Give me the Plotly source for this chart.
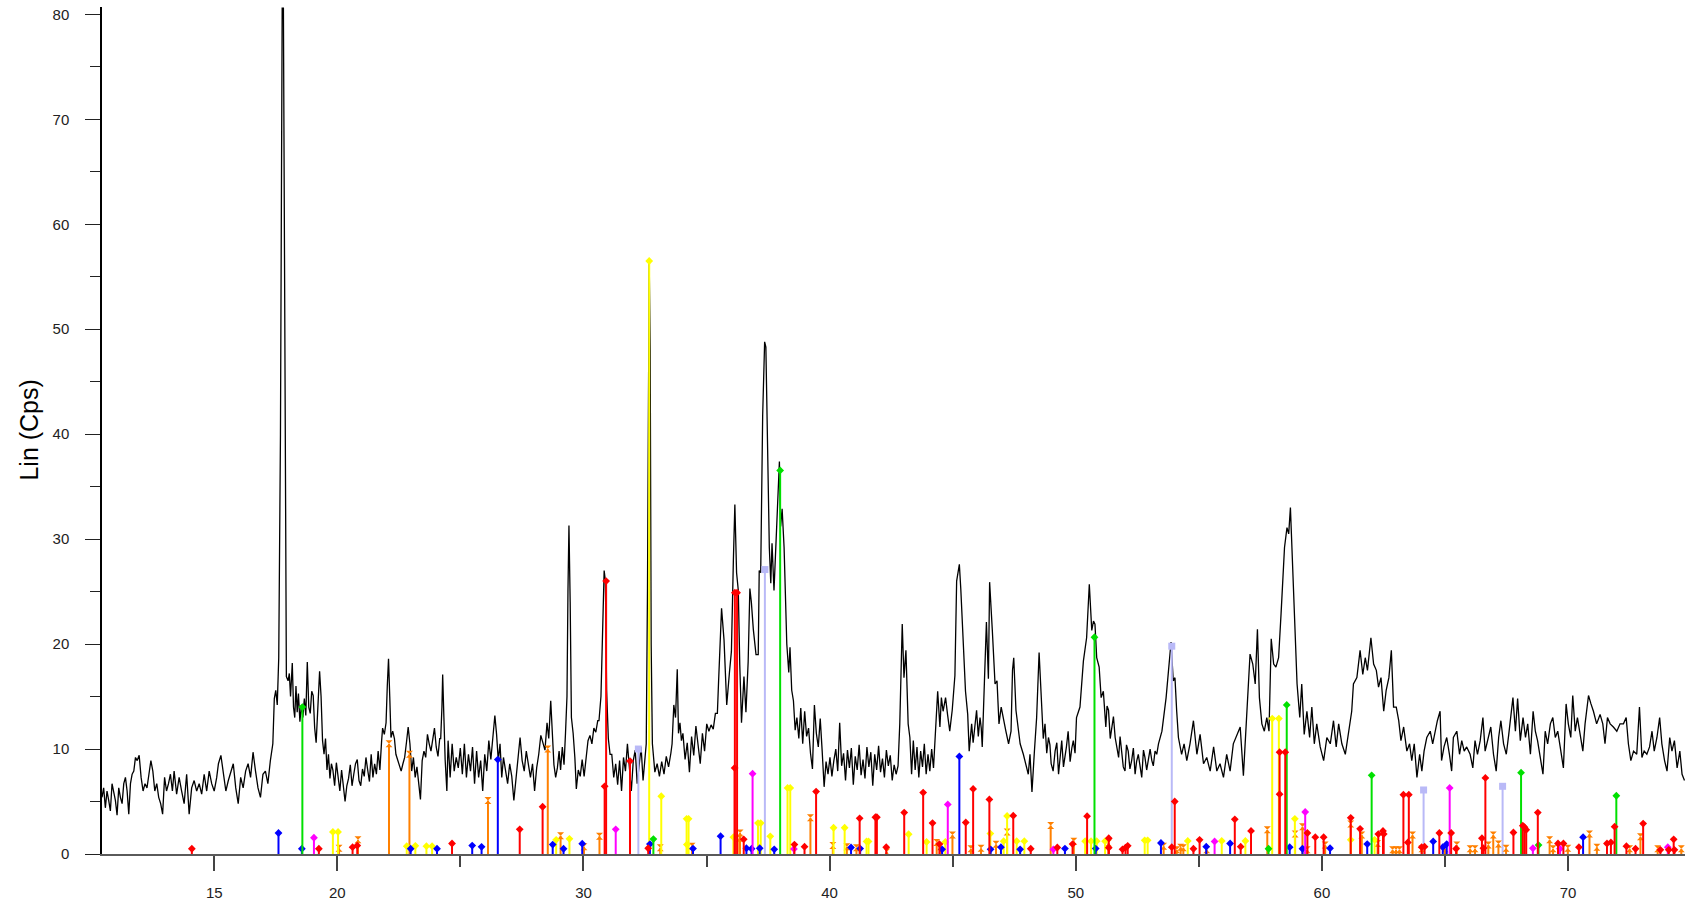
import plotly.graph_objects as go

# ---------------- measured pattern (2-theta, Lin counts) ----------------
# noisy stretches: (start, end, evenly sampled intensities)
NOISE_SEGMENTS = [
    (10.44, 11.80, [5.4, 6.3, 4.4, 6.0, 5.1, 4.1, 6.7, 6.0, 5.1, 3.7, 6.3, 5.4, 4.8, 6.7, 7.3, 6.0, 3.8, 6.7, 7.6, 7.9, 9.2]),
    (11.87, 13.30, [8.9, 9.4, 7.3, 6.0, 6.7, 6.3, 7.6, 8.9, 7.9, 6.0, 6.7, 5.4, 4.8, 3.8, 7.3, 6.0, 6.7, 7.6, 6.0]),
    (13.37, 15.10, [7.9, 5.7, 7.3, 6.0, 4.8, 7.6, 3.8, 6.3, 7.0, 6.0, 6.7, 5.7, 7.6, 6.0, 7.9, 6.7, 6.0, 7.3]),
    (15.17, 17.38, [8.6, 9.4, 7.9, 6.0, 7.0, 7.9, 8.6, 6.3, 4.8, 7.3, 6.3, 7.9, 8.6, 7.3, 9.7, 7.9, 6.3, 5.4, 7.6, 7.9, 6.7, 8.9, 10.5]),
    (19.82, 21.80, [8.0, 6.5, 8.7, 7.5, 6.0, 8.0, 6.3, 5.0, 6.5, 7.2, 8.5, 6.5, 7.6, 8.6, 9.0, 7.0, 6.5, 8.1, 7.4, 9.2, 8.0, 6.9, 9.5, 7.3, 8.6, 7.6, 9.8, 8.0, 10.8]),
    (22.38, 24.16, [9.5, 8.9, 8.4, 7.9, 8.6, 9.2, 10.6, 12.1, 10.5, 7.9, 9.2, 7.3, 8.3, 7.0, 5.2, 8.9, 9.8, 9.2, 11.4, 10.5, 9.8, 10.9, 12.0, 10.2, 9.3, 11.0]),
    (24.50, 26.32, [10.8, 7.3, 10.5, 7.9, 9.2, 8.2, 10.1, 7.6, 10.5, 7.3, 9.5, 7.9, 10.2, 6.7, 9.8, 7.3, 8.9, 6.0, 9.5, 7.9, 10.8, 9.0, 11.5]),
    (26.75, 28.52, [9.2, 8.0, 6.7, 8.6, 7.4, 5.1, 7.3, 9.0, 11.1, 8.9, 7.9, 9.8, 8.5, 7.3, 8.6, 6.0, 8.2, 9.5, 11.3, 10.5, 9.9, 12.5]),
    (29.71, 30.58, [6.2, 8.0, 7.4, 9.0, 7.4, 9.5, 10.8, 11.3, 10.5, 12.0, 11.6, 12.7]),
    (31.15, 32.50, [9.5, 7.3, 8.6, 6.6, 8.9, 6.0, 9.2, 7.9, 10.5, 8.3, 6.0, 8.9, 9.9, 6.7, 8.5, 10.2, 7.0, 9.6]),
    (32.90, 33.55, [7.8, 8.6, 7.4, 8.8, 7.6, 9.3, 8.3, 9.6]),
    (34.04, 35.36, [11.5, 9.0, 10.6, 7.8, 11.2, 9.4, 12.2, 10.2, 8.6, 11.5, 9.8, 12.4, 11.7, 12.3, 11.9, 13.4]),
    (38.67, 42.78, [13.0, 11.0, 13.9, 10.5, 13.6, 11.2, 12.0, 9.6, 8.1, 14.2, 11.5, 10.2, 12.9, 9.8, 6.4, 8.8, 7.6, 9.2,
                    7.4, 8.9, 10.0, 7.9, 12.5, 8.4, 9.6, 7.0, 9.9, 8.2, 10.1, 6.6, 9.3, 8.0, 10.4, 7.5, 9.0, 7.2, 10.2,
                    8.3, 9.7, 6.5, 9.5, 8.0, 10.3, 7.8, 9.1, 7.3, 9.9, 8.4, 9.4, 7.0, 8.5, 7.6, 8.4]),
    (43.40, 44.22, [10.8, 8.0, 10.2, 7.3, 9.8, 8.3, 10.5, 7.6, 9.5, 7.9, 10.0, 8.2]),
]

# peaks and irregular stretches: (2-theta, intensity)
PEAK_SEGMENTS = [
    [(17.44, 14.8), (17.50, 15.6), (17.56, 14.2), (17.62, 18.7), (17.69, 40.0), (17.76, 80.6), (17.81, 80.6),
     (17.87, 38.0), (17.93, 16.9)],
    [(18.00, 16.5), (18.05, 17.2), (18.10, 15.0), (18.17, 18.2), (18.22, 14.0), (18.27, 13.0), (18.32, 16.0),
     (18.37, 13.5), (18.42, 15.3), (18.48, 12.6), (18.54, 14.2), (18.60, 13.0), (18.66, 14.8), (18.72, 13.2),
     (18.78, 18.3), (18.84, 14.0), (18.90, 13.4), (18.96, 15.5), (19.02, 15.1), (19.08, 12.0), (19.14, 10.6),
     (19.20, 13.8), (19.28, 17.4), (19.34, 15.0), (19.40, 10.8), (19.46, 9.5), (19.52, 11.0), (19.58, 8.0),
     (19.64, 9.5), (19.70, 7.2), (19.76, 8.6)],
    [(21.84, 12.0), (21.91, 11.4), (21.98, 12.5), (22.03, 16.0), (22.08, 18.6), (22.13, 15.0), (22.18, 11.1),
     (22.25, 11.7), (22.32, 11.0)],
    [(24.20, 11.0), (24.25, 14.0), (24.28, 17.1), (24.33, 13.0), (24.38, 9.0), (24.45, 6.0)],
    [(26.40, 13.2), (26.47, 11.4), (26.54, 8.9), (26.61, 10.5), (26.68, 7.3)],
    [(28.59, 11.0), (28.67, 14.6), (28.73, 11.5), (28.80, 8.5), (28.87, 7.3), (28.94, 8.2), (29.01, 9.8),
     (29.07, 8.0), (29.14, 10.2), (29.21, 8.5), (29.27, 11.5)],
    [(29.33, 15.0), (29.37, 25.0), (29.41, 31.3), (29.46, 24.0), (29.51, 13.0), (29.58, 11.5), (29.65, 9.2)],
    [(30.63, 12.7), (30.71, 15.0), (30.77, 21.0), (30.84, 27.0), (30.89, 26.0), (30.94, 15.6), (31.01, 11.0),
     (31.08, 9.5)],
    [(32.55, 10.5), (32.60, 25.0), (32.64, 50.0), (32.67, 56.4), (32.71, 48.0), (32.75, 20.0), (32.80, 10.5),
     (32.85, 9.1)],
    [(33.60, 10.5), (33.67, 14.2), (33.74, 13.0), (33.81, 17.6), (33.86, 11.5), (33.92, 12.5), (33.98, 10.8)],
    [(35.44, 13.4), (35.49, 16.5), (35.55, 20.4), (35.61, 23.4), (35.71, 20.4), (35.82, 14.2), (35.93, 17.3),
     (36.01, 19.3), (36.09, 28.0), (36.15, 33.3), (36.22, 26.8), (36.29, 25.1), (36.35, 18.0), (36.42, 12.5),
     (36.52, 16.9), (36.60, 13.5), (36.69, 18.3), (36.76, 25.3), (36.82, 24.0), (36.90, 21.4), (37.01, 19.0),
     (37.10, 19.0), (37.14, 27.0), (37.20, 26.8), (37.28, 41.8), (37.36, 48.8), (37.41, 48.3), (37.47, 39.8),
     (37.55, 29.2), (37.61, 25.8), (37.66, 29.6), (37.74, 25.1), (37.80, 28.5), (37.89, 33.6), (37.96, 37.4),
     (38.01, 31.2), (38.07, 32.9), (38.15, 29.2), (38.26, 20.0), (38.34, 17.3), (38.39, 19.7), (38.46, 15.6),
     (38.53, 14.6), (38.60, 11.8)],
    [(42.85, 12.4), (42.95, 21.9), (43.02, 16.8), (43.10, 19.4), (43.19, 12.4), (43.26, 11.1), (43.33, 7.6)],
    [(44.28, 11.1), (44.39, 15.5), (44.48, 12.1), (44.54, 14.9), (44.61, 13.6), (44.71, 14.9), (44.79, 13.3),
     (44.88, 11.7), (44.98, 13.7), (45.09, 17.0), (45.16, 26.0), (45.27, 27.6), (45.33, 25.2), (45.43, 20.0),
     (45.52, 15.5), (45.61, 13.3), (45.67, 9.8), (45.77, 12.4), (45.83, 10.6), (45.88, 11.7), (45.92, 12.9),
     (45.97, 13.7), (46.04, 11.2), (46.11, 13.0), (46.16, 12.0), (46.20, 10.2), (46.29, 16.5), (46.37, 22.1),
     (46.45, 16.7), (46.50, 25.9), (46.61, 21.3), (46.72, 16.2), (46.80, 16.5), (46.88, 12.4), (46.97, 14.0),
     (47.06, 12.7), (47.16, 11.7), (47.27, 10.5), (47.37, 11.7), (47.43, 17.5), (47.48, 18.7), (47.57, 13.7),
     (47.65, 12.1), (47.74, 10.5), (47.87, 9.5), (47.96, 8.6), (48.07, 7.6), (48.14, 9.5), (48.22, 5.9),
     (48.32, 9.8), (48.41, 13.0), (48.51, 19.2), (48.62, 13.3), (48.68, 11.0), (48.75, 12.4), (48.82, 9.6),
     (48.89, 11.1), (48.95, 10.4), (49.00, 8.6), (49.08, 7.9), (49.16, 9.8), (49.23, 10.6), (49.30, 7.6),
     (49.37, 9.0), (49.43, 10.8), (49.50, 8.3), (49.56, 9.2), (49.62, 10.2), (49.69, 11.7), (49.77, 8.8),
     (49.84, 10.1), (49.90, 10.8), (49.97, 9.6), (50.03, 13.0), (50.17, 14.0), (50.31, 18.4), (50.44, 20.6),
     (50.55, 25.7), (50.65, 21.3), (50.72, 22.2), (50.78, 21.9), (50.85, 18.7), (50.95, 17.8), (51.03, 14.9),
     (51.12, 15.5), (51.22, 12.1), (51.27, 14.1), (51.33, 13.7), (51.40, 11.0), (51.46, 12.1), (51.53, 13.1),
     (51.60, 11.1), (51.67, 9.9), (51.74, 9.2), (51.80, 11.2), (51.87, 9.5), (51.93, 8.3), (52.00, 7.9),
     (52.06, 10.4), (52.13, 9.8), (52.20, 8.1), (52.27, 8.9), (52.34, 10.1), (52.41, 7.6), (52.47, 8.8),
     (52.54, 9.5), (52.61, 8.4), (52.68, 7.3), (52.75, 9.9), (52.81, 9.2), (52.88, 8.0), (52.95, 8.9),
     (53.02, 10.0), (53.09, 8.9), (53.15, 8.4), (53.22, 9.8), (53.29, 9.5), (53.36, 10.5)],
    [(53.50, 11.7), (53.67, 14.9), (53.76, 17.5), (53.87, 20.2), (53.96, 16.5), (54.03, 16.8), (54.10, 13.6),
     (54.17, 11.1), (54.30, 9.5), (54.40, 10.5), (54.51, 8.9), (54.64, 10.5), (54.78, 12.7), (54.92, 9.5),
     (55.05, 11.4), (55.19, 8.6), (55.32, 9.2), (55.46, 7.9), (55.60, 10.2), (55.73, 7.9), (55.86, 8.6),
     (56.00, 7.3), (56.13, 9.5), (56.27, 7.9), (56.40, 10.5), (56.54, 11.4), (56.68, 12.1), (56.81, 7.45),
     (56.92, 12.4), (57.02, 15.6), (57.08, 19.05), (57.19, 18.1), (57.29, 16.2), (57.38, 21.4), (57.46, 14.9),
     (57.56, 12.4), (57.66, 11.7), (57.76, 13.0), (57.85, 11.7), (57.94, 20.5), (58.04, 18.1), (58.13, 17.8),
     (58.24, 18.7), (58.34, 22.9), (58.42, 26.4), (58.48, 29.2), (58.58, 31.1), (58.65, 30.5), (58.72, 33.0),
     (58.78, 29.5), (58.85, 25.4), (58.92, 21.9), (58.99, 16.2), (59.10, 13.0), (59.18, 16.2), (59.28, 11.4),
     (59.39, 13.6), (59.50, 11.1), (59.59, 14.0), (59.69, 10.5), (59.79, 12.4), (59.93, 10.2), (60.07, 8.9),
     (60.20, 11.1), (60.34, 10.5), (60.47, 12.7), (60.58, 10.2), (60.68, 12.4), (60.81, 10.5), (60.95, 9.5),
     (61.08, 11.7), (61.21, 13.6), (61.28, 16.2), (61.42, 16.8), (61.55, 19.4), (61.66, 17.1), (61.76, 18.7),
     (61.85, 17.5), (61.99, 20.6), (62.10, 18.1), (62.21, 17.5), (62.30, 15.9), (62.40, 16.8), (62.51, 13.6),
     (62.61, 15.6), (62.72, 16.8), (62.82, 19.4), (62.91, 14.0), (63.02, 14.0), (63.12, 12.7), (63.21, 10.8),
     (63.32, 12.1), (63.45, 9.8), (63.56, 10.5), (63.65, 8.9), (63.75, 10.5), (63.86, 7.3), (63.97, 9.5),
     (64.06, 7.9)],
    [(64.15, 9.8), (64.26, 11.1), (64.40, 11.7), (64.50, 10.5), (64.60, 11.7), (64.69, 12.7), (64.80, 13.6),
     (64.86, 8.9), (64.96, 10.2), (65.07, 11.1), (65.18, 9.5), (65.27, 7.9), (65.34, 11.1), (65.48, 11.7),
     (65.59, 9.5), (65.68, 10.8), (65.78, 9.8), (65.88, 10.2), (66.02, 9.5), (66.13, 8.2), (66.22, 10.8),
     (66.32, 9.5), (66.43, 10.8), (66.54, 13.0), (66.63, 9.8), (66.77, 11.1), (66.86, 12.1), (66.97, 9.5),
     (67.08, 7.9), (67.18, 11.1), (67.27, 12.7), (67.38, 10.5), (67.49, 9.5), (67.59, 11.4), (67.68, 13.3),
     (67.76, 14.9), (67.86, 11.7), (67.95, 14.8), (68.06, 10.8), (68.17, 13.0), (68.27, 11.1), (68.36, 12.4),
     (68.47, 9.5), (68.58, 13.6), (68.67, 11.7), (68.76, 10.8), (68.87, 9.2), (68.98, 7.6), (69.07, 11.7),
     (69.17, 10.5), (69.28, 12.4), (69.38, 13.0), (69.48, 11.1), (69.58, 11.7), (69.68, 10.2), (69.81, 8.2),
     (69.92, 14.3), (70.01, 12.4), (70.11, 11.1), (70.19, 15.1), (70.29, 11.7), (70.38, 13.0), (70.49, 11.4),
     (70.60, 9.8), (70.69, 12.4), (70.83, 15.1), (70.93, 14.3), (71.03, 13.6), (71.16, 12.4), (71.30, 13.3),
     (71.41, 12.4), (71.50, 10.5), (71.60, 13.0), (71.71, 12.4), (71.84, 12.1), (71.98, 11.7), (72.11, 12.4),
     (72.25, 12.4), (72.36, 13.0), (72.45, 10.5), (72.55, 8.9), (72.66, 9.8), (72.79, 9.5), (72.90, 14.0),
     (73.00, 9.2), (73.09, 9.8), (73.20, 9.5), (73.31, 10.2), (73.41, 11.7), (73.50, 9.8), (73.61, 11.1),
     (73.72, 13.0), (73.81, 10.5), (73.92, 8.9), (74.02, 7.9), (74.13, 11.1), (74.22, 9.8), (74.32, 10.8),
     (74.43, 8.2), (74.54, 9.8), (74.63, 7.6), (74.73, 7.0)],
]

# ---------------- reference phase sticks (position, height) ----------------
RED_POS = [14.09, 19.25, 20.62, 20.81, 24.66, 27.41, 28.34, 30.86, 30.92, 31.89, 32.63, 36.14, 36.15, 36.24, 36.51,
           38.57, 38.98, 39.45, 41.22, 41.86, 41.92, 42.30, 43.03, 43.80, 44.18, 44.46, 45.53, 45.83, 46.49, 47.46,
           48.17, 49.25, 49.87, 50.46, 51.34, 51.34, 51.90, 52.02, 52.11, 53.90, 54.02, 54.78, 55.03, 56.46, 56.70,
           57.12, 58.28, 58.28, 58.51, 59.41, 59.73, 60.07, 61.17, 61.55, 62.29, 62.48, 62.51, 63.31, 63.49, 63.53,
           64.05, 64.17, 64.77, 65.25, 65.45, 66.50, 66.56, 66.64, 67.78, 68.16, 68.23, 68.30, 68.77, 69.59, 69.81,
           70.44, 71.58, 71.74, 71.89, 72.37, 72.74, 73.05, 73.75, 74.09, 74.29, 74.32]
RED_INT = [0.5, 0.5, 0.65, 0.8, 1.0, 2.35, 4.5, 6.45, 26.0, 8.85, 0.55, 8.2, 24.9, 24.9, 1.4,
           0.9, 0.7, 5.95, 3.4, 3.5, 3.5, 0.65, 3.95, 5.85, 2.95, 0.95, 3.0, 6.2, 5.2, 3.65,
           0.5, 0.62, 0.95, 3.6, 1.5, 0.6, 0.45, 0.6, 0.78, 0.65, 5.0, 0.5, 1.35, 3.3, 0.7,
           2.2, 5.7, 9.7, 9.7, 2.0, 1.6, 1.6, 3.45, 2.4, 1.9, 2.2, 1.9, 5.65, 1.1, 5.65,
           0.65, 0.7, 2.0, 2.0, 0.5, 1.5, 0.55, 7.25, 2.05, 2.7, 2.55, 2.3, 3.95, 1.0, 1.0,
           0.65, 1.0, 1.1, 2.6, 0.75, 0.5, 2.9, 0.4, 0.4, 1.4, 0.4]

ORANGE_POS = [20.07, 20.84, 22.10, 22.93, 26.12, 28.55, 29.07, 30.02, 30.65, 33.12, 34.41, 36.33, 36.36, 39.22,
              40.13, 40.70, 41.09, 42.32, 44.35, 44.50, 44.99, 45.74, 46.15, 46.76, 47.21, 48.98, 49.92, 51.33,
              53.57, 54.10, 54.26, 54.37, 55.32, 57.78, 58.91, 59.21, 59.40, 60.13, 61.17, 61.62, 62.26, 62.87,
              63.01, 63.15, 63.68, 64.06, 65.00, 65.48, 66.02, 66.22, 66.76, 66.96, 67.17, 67.48, 69.25, 69.39,
              69.99, 70.87, 71.17, 72.50, 72.94, 73.64, 74.60]
ORANGE_INT = [0.55, 1.35, 10.5, 9.5, 5.1, 10.0, 1.75, 0.7, 1.7, 0.6, 0.75, 1.5, 2.0, 3.45,
              0.8, 0.7, 0.6, 0.2, 1.1, 0.7, 1.8, 0.5, 0.55, 0.92, 2.1, 2.72, 1.22, 1.05,
              0.75, 0.4, 0.65, 0.6, 0.4, 2.3, 1.9, 2.6, 0.4, 0.85, 2.85, 1.8, 1.0, 0.4,
              0.4, 0.4, 1.8, 0.5, 0.5, 0.85, 0.5, 0.5, 0.85, 1.8, 0.95, 0.55, 1.35, 0.5,
              0.55, 1.9, 0.65, 0.5, 1.65, 0.5, 0.5]

YELLOW_POS = [19.82, 20.03, 22.82, 23.17, 23.62, 23.85, 28.89, 29.43, 32.67, 33.16, 34.19, 34.27, 34.20, 36.09,
              37.09, 37.20, 37.59, 38.29, 38.40, 40.16, 40.61, 41.50, 41.58, 43.21, 43.94, 44.70, 46.53, 47.07,
              47.21, 47.60, 47.91, 50.38, 50.62, 50.85, 51.19, 52.80, 52.92, 54.55, 55.93, 56.89, 57.98, 58.25,
              58.90, 61.17, 62.14]
YELLOW_INT = [2.1, 2.1, 0.75, 0.78, 0.75, 0.75, 1.35, 1.45, 56.5, 5.5, 3.35, 3.35, 0.9, 1.6,
              2.95, 2.95, 1.68, 6.3, 6.3, 2.5, 2.5, 1.2, 1.2, 1.88, 1.15, 1.15, 1.95, 1.22,
              3.62, 1.22, 1.22, 1.22, 1.22, 1.22, 1.22, 1.3, 1.3, 1.25, 1.25, 1.25, 12.9, 12.9,
              3.35, 1.35, 1.35]

BLUE_POS = [17.61, 18.56, 22.98, 24.05, 25.48, 25.86, 26.52, 28.75, 29.19, 29.95, 32.70, 34.45, 35.57, 36.62,
            36.83, 37.16, 37.75, 40.87, 41.24, 44.57, 45.27, 46.54, 46.96, 47.74, 49.56, 50.81, 53.46, 55.30,
            56.27, 58.69, 59.21, 60.33, 61.84, 64.52, 64.91, 65.07, 70.61]
BLUE_INT = [2.0, 0.5, 0.5, 0.5, 0.8, 0.68, 9.0, 0.9, 0.5, 0.98, 0.95, 0.52, 1.7, 0.55,
            0.5, 0.55, 0.45, 0.62, 0.52, 0.45, 9.3, 0.45, 0.65, 0.45, 0.52, 0.52, 1.05, 0.7,
            1.0, 0.65, 0.5, 0.55, 0.95, 1.2, 0.65, 0.95, 1.6]

MAGENTA_POS = [19.05, 31.31, 36.87, 38.55, 44.80, 49.09, 55.64, 59.32, 65.19, 68.57, 69.67, 74.05]
MAGENTA_INT = [1.55, 2.35, 7.65, 0.48, 4.72, 0.45, 1.2, 4.0, 6.3, 0.55, 0.5, 0.65]

GREEN_POS = [18.58, 32.84, 37.99, 50.76, 57.83, 58.57, 62.02, 68.09, 68.80, 71.96]
GREEN_INT = [14.0, 1.42, 36.55, 20.65, 0.5, 14.2, 7.5, 7.75, 0.85, 5.55]

LAVENDER_POS = [32.23, 37.37, 53.90, 64.13, 67.34]
LAVENDER_INT = [10.0, 27.1, 19.8, 6.1, 6.45]

X_TICKS = [15, 20, 30, 40, 50, 60, 70]
X_MINOR = [25, 35, 45, 55, 65]
Y_TICKS = [0, 10, 20, 30, 40, 50, 60, 70, 80]
Y_MINOR = [5, 15, 25, 35, 45, 55, 65, 75]
Y_TITLE = "Lin (Cps)"

# ---------------- assemble pattern ----------------
points = []
for x0, x1, vals in NOISE_SEGMENTS:
    n = len(vals)
    for i, v in enumerate(vals):
        points.append((x0 + (x1 - x0) * i / (n - 1), v))
for seg in PEAK_SEGMENTS:
    points.extend(seg)
points.sort()
line_x = [p[0] for p in points]
line_y = [p[1] for p in points]

FONT = "Liberation Sans, Arial, sans-serif"

fig = go.Figure()
fig.add_trace(go.Scatter(x=line_x, y=line_y, mode="lines",
                         line=dict(color="black", width=1.3), hoverinfo="skip"))

phases = [
    (LAVENDER_POS, LAVENDER_INT, "#b9b9f7", "square", 7),
    (ORANGE_POS, ORANGE_INT, "#ff8000", "hourglass", 7),
    (YELLOW_POS, YELLOW_INT, "#ffff00", "diamond", 6),
    (BLUE_POS, BLUE_INT, "#0000ff", "diamond", 6),
    (MAGENTA_POS, MAGENTA_INT, "#ff00ff", "diamond", 6),
    (GREEN_POS, GREEN_INT, "#00e000", "diamond", 6),
    (RED_POS, RED_INT, "#ff0000", "diamond", 6),
]
for pos, inten, col, sym, sz in phases:
    fig.add_trace(go.Scatter(
        x=pos, y=inten, mode="markers",
        marker=dict(symbol=sym, size=sz, color=col, line=dict(width=0)),
        error_y=dict(type="data", symmetric=False, array=[0] * len(inten), arrayminus=inten,
                     width=0, thickness=2, color=col),
        hoverinfo="x+y"))

fig.update_layout(
    width=1685, height=900,
    margin=dict(l=102, r=0, t=7, b=46),
    paper_bgcolor="white", plot_bgcolor="white",
    showlegend=False,
    font=dict(family=FONT, color="#111111"),
    xaxis=dict(range=[10.44, 74.75], showgrid=False, zeroline=False,
               showline=True, linecolor="#5a5a5a", linewidth=2,
               ticks="outside", ticklen=15, tickwidth=1.5, tickcolor="#444444",
               tickmode="array", tickvals=X_TICKS, ticktext=[str(v) for v in X_TICKS],
               tickfont=dict(size=15, family=FONT, color="#222222"),
               ticklabelstandoff=9,
               minor=dict(tickmode="array", tickvals=X_MINOR, ticks="outside",
                          ticklen=11, tickwidth=1.5, tickcolor="#444444")),
    yaxis=dict(range=[0, 80.7], showgrid=False, zeroline=False,
               showline=True, linecolor="black", linewidth=1.5,
               ticks="outside", ticklen=15, tickwidth=1.3, tickcolor="#222222",
               tickmode="array", tickvals=Y_TICKS, ticktext=[str(v) for v in Y_TICKS],
               tickfont=dict(size=15, family=FONT, color="#222222"),
               ticklabelstandoff=13,
               minor=dict(tickmode="array", tickvals=Y_MINOR, ticks="outside",
                          ticklen=10, tickwidth=1.3, tickcolor="#222222")),
    annotations=[dict(text=Y_TITLE, xref="paper", yref="paper", x=-0.0467, y=0.5,
                      xanchor="center", yanchor="middle", textangle=-90, showarrow=False,
                      font=dict(size=25, family=FONT, color="black"))],
)

fig.write_html("out.html", config={"displayModeBar": False},
               post_script="document.body.style.margin='0px';document.body.style.overflow='hidden';")
